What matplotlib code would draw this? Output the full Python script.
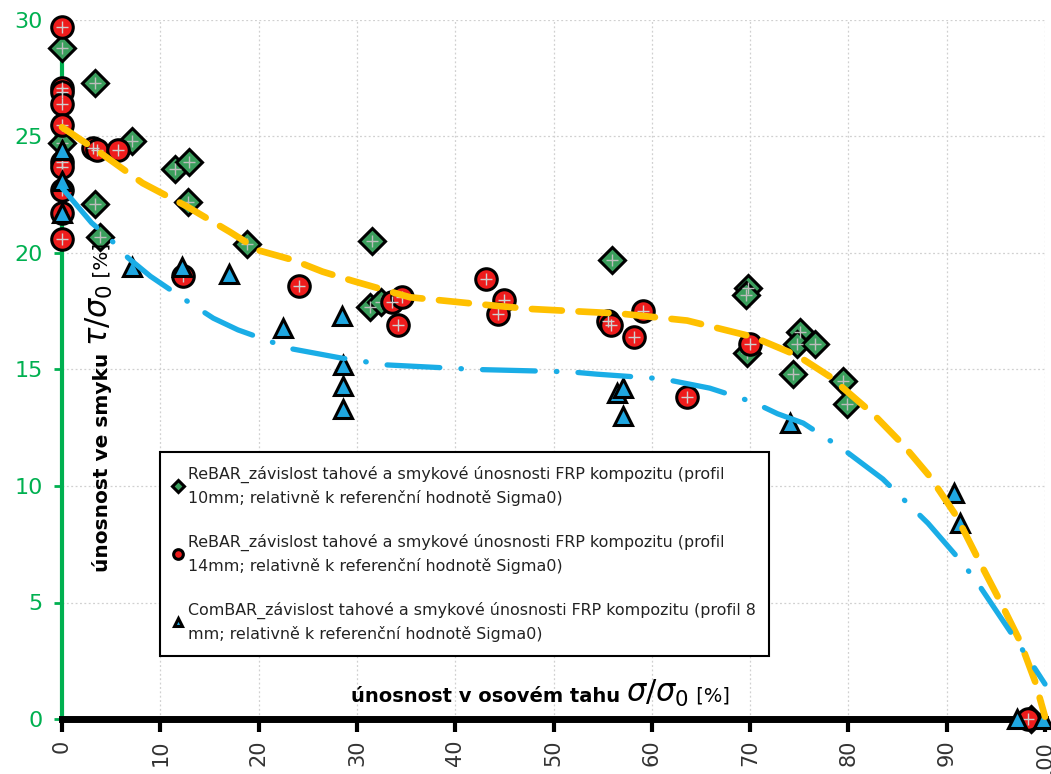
import matplotlib
matplotlib.use("Agg")
import matplotlib.pyplot as plt

# ---------------- data ----------------
rebar10_x = [0, 0, 3.4, 7.1, 11.5, 12.9, 12.8, 3.4, 3.9, 18.8, 31.5, 31.3, 32.5,
             56.0, 69.8, 69.6, 69.7, 75.1, 74.8, 76.6, 74.4, 79.5, 79.9, 98.6]
rebar10_y = [28.8, 24.7, 27.3, 24.8, 23.6, 23.9, 22.2, 22.1, 20.7, 20.4, 20.5, 17.7, 17.9,
             19.7, 18.5, 18.2, 15.7, 16.6, 16.1, 16.1, 14.8, 14.5, 13.5, 0.0]

rebar14_x = [0, 0, 0, 0, 0, 0, 0, 0, 0, 0, 3.2, 3.6, 5.7, 12.3, 24.1, 33.6, 34.6, 34.2,
             43.1, 45.0, 44.4, 55.5, 55.8, 59.1, 58.2, 63.6, 70.0, 98.3]
rebar14_y = [29.7, 27.1, 26.9, 26.4, 25.5, 23.9, 23.7, 22.7, 21.7, 20.6, 24.5, 24.4, 24.4,
             19.0, 18.6, 17.9, 18.1, 16.9, 18.9, 18.0, 17.4, 17.1, 16.9, 17.5, 16.4, 13.8,
             16.1, 0.0]

combar_x = [0, 0, 0, 7.1, 12.2, 17.0, 22.5, 28.5, 28.6, 28.6, 28.6, 56.5, 57.1, 57.1,
            74.1, 90.7, 91.4, 97.2, 99.8]
combar_y = [24.4, 23.1, 21.7, 19.4, 19.4, 19.1, 16.8, 17.3, 15.2, 14.3, 13.3, 14.0, 14.2,
            13.0, 12.7, 9.7, 8.4, 0.0, 0.0]

trend_yellow_x = [0, 3.9, 8.2, 12.7, 17.1, 20.1, 23.5, 26.5, 29.6, 35.4, 42.5, 47.6, 56.8,
                  63.6, 70.3, 74.8, 78.1, 82.5, 85.5, 88.3, 91.0, 93.4, 95.5, 97.5, 99.0, 100]
trend_yellow_y = [25.4, 24.3, 23.0, 22.0, 20.9, 20.1, 19.7, 19.2, 18.8, 18.1, 17.8, 17.6, 17.4,
                  17.1, 16.4, 15.6, 14.7, 13.1, 11.8, 10.4, 8.7, 6.7, 5.0, 3.3, 1.6, 0.1]

trend_blue_x = [0, 3.0, 4.9, 6.7, 9.0, 13.2, 15.4, 17.9, 23.2, 28.3, 32.9, 42.2, 51.7, 54.4,
                61.1, 65.9, 70.3, 72.8, 75.4, 79.4, 83.5, 88.1, 91.6, 93.2, 96.7, 98.3, 100]
trend_blue_y = [22.8, 21.3, 20.6, 19.8, 19.0, 17.8, 17.2, 16.7, 15.9, 15.5, 15.2, 15.0, 14.9, 14.8,
                14.6, 14.2, 13.6, 13.1, 12.7, 11.6, 10.3, 8.4, 6.7, 5.8, 3.6, 2.6, 1.5]

labels = [
    "ReBAR_závislost tahové a smykové únosnosti FRP kompozitu (profil\n10mm; relativně k referenční hodnotě Sigma0)",
    "ReBAR_závislost tahové a smykové únosnosti FRP kompozitu (profil\n14mm; relativně k referenční hodnotě Sigma0)",
    "ComBAR_závislost tahové a smykové únosnosti FRP kompozitu (profil 8\nmm; relativně k referenční hodnotě Sigma0)",
]
xticks = list(range(0, 101, 10))
yticks = list(range(0, 31, 5))

# ---------------- style ----------------
GREEN_AX = "#00B050"
C_DIAM = "#3A9E5C"
C_RED = "#EE1C1C"
C_TRI = "#1FA7E1"
C_YEL = "#FFC000"
C_BLUE = "#1AADE6"

fig = plt.figure(figsize=(10.51, 7.74), dpi=100)
ax = fig.add_axes([62/1051, 55/774, 983/1051, 699/774])
ax.set_xlim(0, 100)
ax.set_ylim(0, 30)

ax.set_xticks(xticks)
ax.set_yticks(yticks)
ax.grid(True, color="#D0D0D0", linestyle=(0, (1.5, 2)), linewidth=0.9)
ax.set_axisbelow(True)

for s in ["top", "right"]:
    ax.spines[s].set_visible(False)
ax.spines["left"].set_color(GREEN_AX)
ax.spines["left"].set_linewidth(3)
ax.spines["bottom"].set_color("black")
ax.spines["bottom"].set_linewidth(5)
ax.spines["left"].set_zorder(2)
ax.spines["bottom"].set_zorder(2)

ax.tick_params(axis="y", colors=GREEN_AX, labelsize=16, length=6, width=2, pad=8)
ax.tick_params(axis="x", colors="black", labelsize=15, length=9, width=3, pad=6,
               labelrotation=90, labelcolor="#333333")

mk = dict(linestyle="none", clip_on=False, markeredgecolor="black", markeredgewidth=2.2)
ax.plot(rebar10_x, rebar10_y, marker="D", markersize=13, markerfacecolor=C_DIAM,
        zorder=3, label=labels[0], **mk)
ax.plot(rebar10_x, rebar10_y, marker="+", markersize=8, color="#BDBDBD", linestyle="none",
        markeredgewidth=1.0, clip_on=False, zorder=3.05)
ax.plot(rebar14_x, rebar14_y, marker="o", markersize=15.5, markerfacecolor=C_RED,
        zorder=3.1, label=labels[1], **mk)
ax.plot(rebar14_x, rebar14_y, marker="+", markersize=8, color="#D0D0D0", linestyle="none",
        markeredgewidth=1.0, clip_on=False, zorder=3.15)
ax.plot(combar_x, combar_y, marker="^", markersize=13, markerfacecolor=C_TRI,
        zorder=3.2, label=labels[2], **mk)

ax.plot(trend_yellow_x, trend_yellow_y, color=C_YEL, linewidth=4.8,
        linestyle=(0, (4.5, 2.5)), dash_capstyle="round", solid_capstyle="round",
        zorder=4, clip_on=False)
ax.plot(trend_blue_x, trend_blue_y, color=C_BLUE, linewidth=3.8,
        linestyle=(0, (10, 4, 0.1, 4)), dash_capstyle="round", zorder=4.1, clip_on=False)

leg = ax.legend(loc="upper left", bbox_to_anchor=(98/983, 267/699), borderaxespad=0,
                fancybox=False, edgecolor="black", framealpha=1,
                markerscale=0.45, handlelength=0.6, handletextpad=0.3,
                labelspacing=1.7, borderpad=0.85, prop={"family": "DejaVu Sans", "size": 11.4})
leg.get_frame().set_linewidth(1.5)
leg.set_zorder(5)
for t in leg.get_texts():
    t.set_linespacing(1.6)
    t.set_color("#222222")

# ---------------- axis titles composed of pieces ----------------
fig.canvas.draw()
r = fig.canvas.get_renderer()

# x title
pieces_x = [("únosnost v osovém tahu ", dict(fontsize=14, fontweight="bold", family="DejaVu Sans")),
            (r"$\sigma/\sigma_0$", dict(fontsize=22)),
            (" [%]", dict(fontsize=14, family="DejaVu Sans"))]
texts = []
for s, kw in pieces_x:
    t = fig.text(0, 0, s, ha="left", va="baseline", **kw)
    texts.append(t)
widths = [t.get_window_extent(r).width for t in texts]
total = sum(widths)
cx, base = 540, 774 - 702
x0 = cx - total / 2
for t, w in zip(texts, widths):
    t.set_position((x0 / 1051, base / 774))
    x0 += w

# y title (rotated, reading bottom to top)
pieces_y = [("únosnost ve smyku ", dict(fontsize=14.5, fontweight="bold", family="DejaVu Sans")),
            (r"$\tau/\sigma_0$", dict(fontsize=22)),
            (" [%]", dict(fontsize=14.5, family="DejaVu Sans"))]
texts = []
for s, kw in pieces_y:
    t = fig.text(0, 0, s, ha="left", va="baseline", rotation=90,
                 rotation_mode="anchor", **kw)
    texts.append(t)
fig.canvas.draw()
heights = [t.get_window_extent(r).height for t in texts]
xb = 108  # baseline x position in pixels
y0 = 774 - 572
for t, h in zip(texts, heights):
    t.set_position((xb / 1051, y0 / 774))
    y0 += h

fig.savefig("out.png", dpi=100)
